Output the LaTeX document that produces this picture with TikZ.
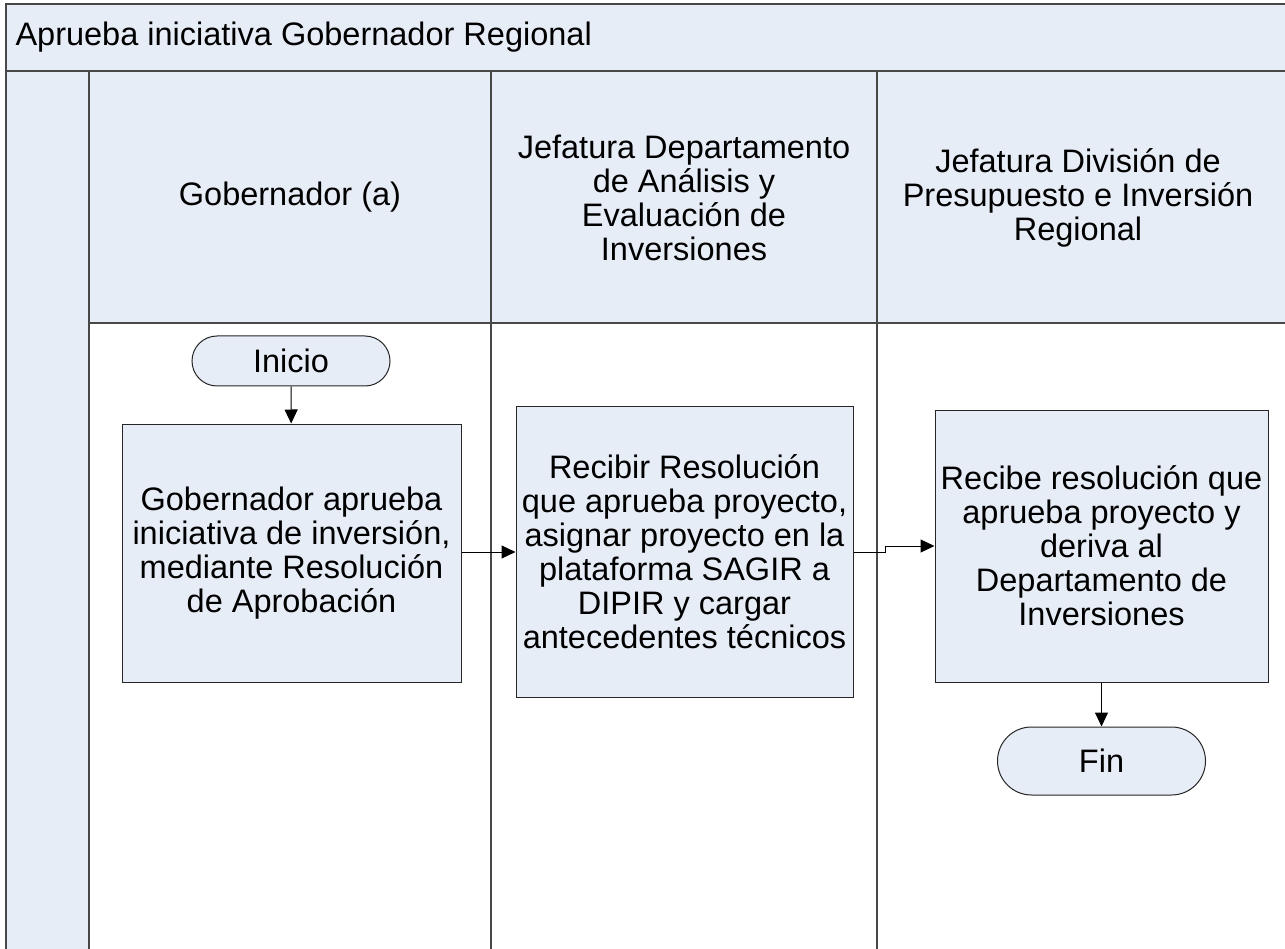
\documentclass[tikz,border=0pt]{standalone}
\usepackage{fontspec}
\setmainfont{Liberation Sans}
\usetikzlibrary{arrows.meta}
\definecolor{lanefill}{RGB}{231,237,247}
\definecolor{laneline}{RGB}{72,72,72}
\begin{document}
\begin{tikzpicture}[x=1pt,y=-1pt,
  txt/.style={font=\fontsize{32.5}{34}\selectfont, align=center},
  procbox/.style={draw=black!85, line width=1pt, fill=lanefill, txt, inner sep=0pt},
  term/.style={draw=black!85, line width=1pt, fill=lanefill, txt, rounded corners=#1, inner sep=0pt},
  flow/.style={line width=1pt, -{Triangle[length=14pt,width=13pt]}},
  lane/.style={draw=laneline, line width=1.6pt}]
\useasboundingbox (0,0) rectangle (1285,949);
% pool background
\fill[white] (0,0) rectangle (1285,949);
\fill[lanefill] (6,4) rectangle (1285,71);
\fill[lanefill] (6,71) rectangle (89,949);
\fill[lanefill] (89,71) rectangle (1285,323);
% pool and lane borders
\draw[lane] (1285,4) -- (6,4) -- (6,949);
\draw[lane] (6,71) -- (1285,71);
\draw[lane] (89,323) -- (1285,323);
\draw[lane] (89,71) -- (89,949);
\draw[lane] (491,71) -- (491,949);
\draw[lane] (877,71) -- (877,949);
% titles
\node[txt, anchor=base west] (title) at (12,46) {Aprueba iniciativa Gobernador Regional};
\node[txt] (h1) at (290,197) {Gobernador (a)};
\node[txt] (h2) at (684,198) {Jefatura Departamento\\de Análisis y\\Evaluación de\\Inversiones};
\node[txt] (h3) at (1078,198) {Jefatura División de\\Presupuesto e Inversión\\Regional};
% flow
\node[term=25pt, minimum width=198pt, minimum height=50pt] (inicio) at (291,361) {Inicio};
\node[procbox, minimum width=339pt, minimum height=258pt] (b1) at (291.5,553)
  {Gobernador aprueba\\iniciativa de inversión,\\mediante Resolución\\de Aprobación};
\node[procbox, minimum width=337pt, minimum height=290pt] (b2) at (684.5,552)
  {Recibir Resolución\\que aprueba proyecto,\\asignar proyecto en la\\plataforma SAGIR a\\DIPIR y cargar\\antecedentes técnicos};
\node[procbox, minimum width=333pt, minimum height=272pt] (b3) at (1101.5,546)
  {Recibe resolución que\\aprueba proyecto y\\deriva al\\Departamento de\\Inversiones};
\node[term=34pt, minimum width=208pt, minimum height=68pt] (fin) at (1101.5,761) {Fin};
\draw[flow] (inicio) -- (b1);
\draw[flow] (b1.east |- b2.west) -- (b2.west);
\draw[flow] (b2.east) -- ++(32,0) |- (b3.west);
\draw[flow] (b3) -- (fin);
\end{tikzpicture}
\end{document}
